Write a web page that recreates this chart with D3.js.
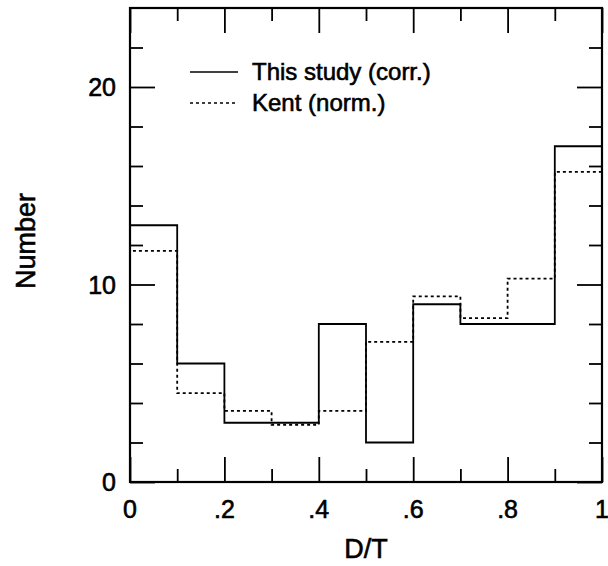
<!DOCTYPE html>
<html>
<head>
<meta charset="utf-8">
<script src="https://cdn.jsdelivr.net/npm/d3@7"></script>
<style>
  html, body { margin: 0; padding: 0; background: #fff; }
  svg { display: block; }
  text { font-family: "Liberation Sans", Arial, Helvetica, sans-serif; fill: #000; stroke: #000; stroke-width: 0.6px; }
</style>
</head>
<body>
<svg id="chart" width="608" height="566"></svg>
<script>
// ---- data ----
const binEdges = [0, 0.1, 0.2, 0.3, 0.4, 0.5, 0.6, 0.7, 0.8, 0.9, 1.0];
const thisStudy = [13, 6, 3, 3, 8, 2, 9, 8, 8, 17];
const kent = [11.7, 4.5, 3.6, 2.9, 3.6, 7.1, 9.4, 8.3, 10.3, 15.7];
const xTickValues = [0, 0.2, 0.4, 0.6, 0.8, 1.0];
const xTickLabels = ["0", ".2", ".4", ".6", ".8", "1"];
const xMinorTicks = [0.1, 0.3, 0.5, 0.7, 0.9];
const yTickValues = [0, 10, 20];
const yMinorTicks = [2, 4, 6, 8, 12, 14, 16, 18, 22];
const seriesNames = ["This study (corr.)", "Kent (norm.)"];

// ---- layout ----
const svg = d3.select("#chart");
const L = 130, R = 602, T = 8, B = 482;
const x = d3.scaleLinear().domain([0, 1]).range([L, R]);
const y = d3.scaleLinear().domain([0, 24]).range([B, T]);
const majorLen = 25, minorLen = 13;

function addAxis(axisGen, transform) {
  const g = svg.append("g").attr("transform", transform).call(axisGen);
  g.select(".domain").remove();
  g.selectAll("line").attr("stroke", "#000").attr("stroke-width", 1.8);
  g.selectAll("text").remove();
  return g;
}
addAxis(d3.axisBottom(x).tickValues(xTickValues).tickSize(-majorLen), `translate(0,${B})`);
addAxis(d3.axisBottom(x).tickValues(xMinorTicks).tickSize(-minorLen), `translate(0,${B})`);
addAxis(d3.axisTop(x).tickValues(xTickValues).tickSize(-majorLen), `translate(0,${T})`);
addAxis(d3.axisTop(x).tickValues(xMinorTicks).tickSize(-minorLen), `translate(0,${T})`);
addAxis(d3.axisLeft(y).tickValues(yTickValues).tickSize(-majorLen), `translate(${L},0)`);
addAxis(d3.axisLeft(y).tickValues(yMinorTicks).tickSize(-minorLen), `translate(${L},0)`);
addAxis(d3.axisRight(y).tickValues(yTickValues).tickSize(-majorLen), `translate(${R},0)`);
addAxis(d3.axisRight(y).tickValues(yMinorTicks).tickSize(-minorLen), `translate(${R},0)`);

svg.append("rect").attr("x", L).attr("y", T).attr("width", R - L).attr("height", B - T)
  .attr("fill", "none").attr("stroke", "#000").attr("stroke-width", 2.2);

svg.append("g").selectAll("text").data(xTickValues).join("text")
  .attr("x", d => x(d)).attr("y", 518)
  .attr("text-anchor", "middle").attr("font-size", 25)
  .text((d, i) => xTickLabels[i]);
svg.append("g").selectAll("text").data(yTickValues).join("text")
  .attr("x", 116).attr("y", d => y(d) + 9)
  .attr("text-anchor", "end").attr("font-size", 25)
  .text(d => d);

svg.append("text").attr("x", (L + R) / 2).attr("y", 558)
  .attr("text-anchor", "middle").attr("font-size", 27).text("D/T");
svg.append("text").attr("transform", `translate(35,${(T + B) / 2 - 4}) rotate(-90)`)
  .attr("text-anchor", "middle").attr("font-size", 27).text("Number");

function stepPath(vals) {
  const pts = [[binEdges[0], 0]];
  vals.forEach((v, i) => { pts.push([binEdges[i], v]); pts.push([binEdges[i + 1], v]); });
  pts.push([binEdges[binEdges.length - 1], 0]);
  return d3.line().x(d => x(d[0])).y(d => y(d[1]))(pts);
}
svg.append("path").attr("d", stepPath(kent))
  .attr("fill", "none").attr("stroke", "#000").attr("stroke-width", 1.8)
  .attr("stroke-dasharray", "3,3");
svg.append("path").attr("d", stepPath(thisStudy))
  .attr("fill", "none").attr("stroke", "#000").attr("stroke-width", 1.8);

const legY = [72, 103];
const legDash = [null, "3,3"];
seriesNames.forEach((name, i) => {
  svg.append("line").attr("x1", 190).attr("x2", 238).attr("y1", legY[i]).attr("y2", legY[i])
    .attr("stroke", "#000").attr("stroke-width", 1.6)
    .attr("stroke-dasharray", legDash[i]);
  svg.append("text").attr("x", 252).attr("y", legY[i] + 8)
    .attr("font-size", 24).text(name);
});
</script>
</body>
</html>
